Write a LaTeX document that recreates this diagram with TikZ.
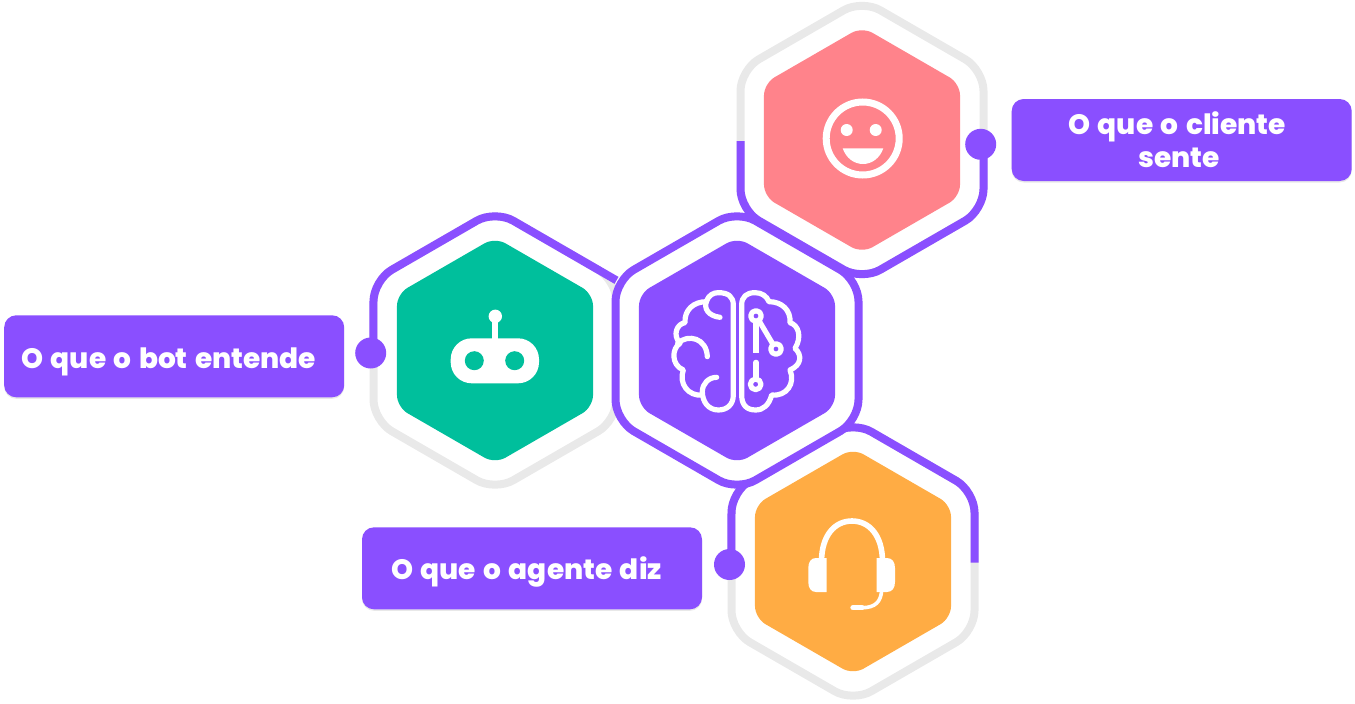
\documentclass[tikz,border=0pt]{standalone}
\usepackage{fontspec}
\setmainfont{Poppins}[BoldFont={Poppins ExtraBold},WordSpace=1.4]
\usetikzlibrary{shapes.geometric,shadows}
\definecolor{botpurple}{HTML}{8A4FFF}
\definecolor{botgreen}{HTML}{00BF9C}
\definecolor{botpink}{HTML}{FF838B}
\definecolor{botorange}{HTML}{FFAC44}
\definecolor{ringgrey}{HTML}{E9E9E9}
\tikzset{
  hexnode/.style={regular polygon,regular polygon sides=6,shape border rotate=30,minimum size=226.4pt,inner sep=0pt,outer sep=0pt,rounded corners=12pt},
  ringnode/.style={regular polygon,regular polygon sides=6,shape border rotate=30,minimum size=280.6pt,inner sep=0pt,outer sep=0pt,rounded corners=21pt,line width=8pt,draw=ringgrey},
  progress/.style={draw=botpurple,line width=8pt,rounded corners=21pt},
  dotnode/.style={circle,fill=botpurple,minimum size=31pt,inner sep=0pt},
  boxnode/.style={rectangle,fill=botpurple,rounded corners=12pt,minimum width=340pt,minimum height=82pt,inner sep=0pt,text=white,font=\fontsize{28}{33}\selectfont\bfseries,align=center,drop shadow={shadow xshift=0pt,shadow yshift=-1.5pt,opacity=.18}},
  icon/.style={draw=white,line width=5.2pt,line cap=round,line join=round},
}
\begin{document}
\begin{tikzpicture}[x=1pt,y=-1pt]
\useasboundingbox (0,0) rectangle (1355,704);
\coordinate (anchorbot) at (370.7,353);
\coordinate (anchorfeel) at (980.7,144.3);
\coordinate (anchoragent) at (729.5,564.5);
% rings
\node[ringnode] (ringbot) at (495,350.5) {};
\node[ringnode] (ringfeel) at (862,140) {};
\node[ringnode] (ringagent) at (853,561.5) {};
% purple part of the rings
\draw[progress] (anchorbot -| ringbot.west) -- (373.5,280.35) -- (495,210.2) -- (616.5,280.35);
\draw[progress] (anchorfeel -| ringfeel.east) -- (983.5,210.15) -- (862,280.3) -- (740.5,210.15) -- (740.5,141);
\draw[progress] (anchoragent -| ringagent.west) -- (731.5,491.35) -- (853,421.2) -- (974.5,491.35) -- (974.5,562.7);
% dots
\node[dotnode] (dotbot) at (anchorbot) {};
\node[dotnode] (dotfeel) at (anchorfeel) {};
\node[dotnode] (dotagent) at (anchoragent) {};
\node[ringnode,draw=botpurple,fill=white] (ringbrain) at (737,350.5) {};
% hexagons
\node[hexnode,fill=botgreen] (hexbot) at (495,350.5) {};
\node[hexnode,fill=botpurple] (hexbrain) at (737,350.5) {};
\node[hexnode,fill=botpink] (hexfeel) at (862,140) {};
\node[hexnode,fill=botorange] (hexagent) at (853,561.5) {};
% labels
\node[boxnode] (boxfeel) at (1181.7,140) {O que o cliente\hspace*{9pt}\\sente\hspace*{5pt}};
\node[boxnode] (boxbot) at (174.2,356.3) {\rule{0pt}{31pt}O que o bot entende\hspace*{11pt}};
\node[boxnode] (boxagent) at (532,568.3) {\rule{0pt}{31pt}O que o agente diz\hspace*{11pt}};
% smile
\draw[draw=white,line width=7pt] (862.7,138.5) circle (36.5);
\fill[white] (846.7,130) circle (6) (875.7,130) circle (6);
\fill[white] (842.7,148.3) -- (883.3,148.3) .. controls (880,158) and (872,164) .. (863,164) .. controls (854,164) and (846,158) .. cycle;
% robot
\fill[white,rounded corners=21pt] (450.7,338.3) rectangle (539,383.3);
\fill[botgreen] (474.3,360.7) circle (9.5) (514.7,360.7) circle (9.5);
\draw[draw=white,line width=6pt] (495,318) -- (495,340);
\fill[white] (495.3,316.3) circle (6.7);
% headset
\draw[icon,line width=5.6pt,line cap=butt] (821.5,562) .. controls (821.5,535) and (835,521) .. (852,521) .. controls (869,521) and (882.5,535) .. (882.5,562);
\fill[white] (826.7,558) -- (816,558) .. controls (811,558) and (808.3,562) .. (808.3,568) -- (808.3,582) .. controls (808.3,588) and (811,592) .. (816,592) -- (826.7,592) -- cycle;
\fill[white] (876.7,558) -- (887,558) .. controls (892,558) and (895,562) .. (895,568) -- (895,582) .. controls (895,588) and (892,592) .. (887,592) -- (876.7,592) -- cycle;
\draw[icon,line width=3.6pt] (881.7,590) .. controls (881,602) and (875,607.7) .. (862,607.7) -- (853,607.7);
\draw[icon,line width=5.4pt] (853,607.7) -- (862,607.7);
% brain
\begin{scope}[shift={(665,280)},x=.3333pt,y=-.3333pt]
\draw[icon] (165,112) .. controls (130,108) and (115,85) .. (125,62) .. controls (132,45) and (145,38) .. (160,38) .. controls (190,38) and (205,50) .. (205,75) -- (205,345) .. controls (205,375) and (185,390) .. (160,390) .. controls (130,390) and (112,365) .. (112,335) .. controls (112,312) and (130,292) .. (155,292);
\draw[icon] (125,65) .. controls (85,65) and (58,90) .. (60,128) .. controls (35,132) and (22,165) .. (45,190) .. controls (20,205) and (18,255) .. (55,270) .. controls (40,310) and (70,350) .. (112,345);
\draw[icon] (38,190) .. controls (70,160) and (125,175) .. (127,230);
\draw[icon] (230,75) .. controls (230,50) and (245,38) .. (270,38) .. controls (290,38) and (305,48) .. (312,65) .. controls (350,65) and (378,90) .. (375,128) .. controls (400,135) and (412,170) .. (390,205) .. controls (412,225) and (410,255) .. (375,270) .. controls (392,310) and (365,350) .. (320,345) .. controls (312,375) and (295,390) .. (272,390) .. controls (245,390) and (230,375) .. (230,345) -- cycle;
\draw[icon] (273,108) circle (16);
\draw[icon] (333,207) circle (16);
\draw[icon] (272,313) circle (16);
\draw[icon,line cap=butt] (273,124) -- (273,218);
\draw[icon,line cap=butt] (282,122) -- (324,193);
\draw[icon] (273,247) -- (273,297);
\end{scope}
\end{tikzpicture}
\end{document}
